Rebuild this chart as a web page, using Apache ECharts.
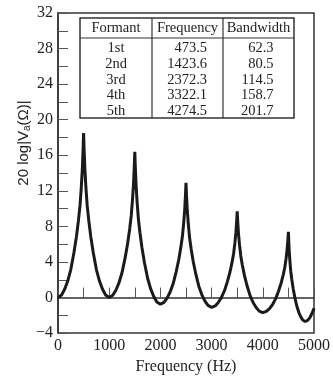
<!DOCTYPE html>
<html>
<head>
<meta charset="utf-8">
<script src="https://cdn.jsdelivr.net/npm/echarts@6/dist/echarts.min.js"></script>
<style>
html,body{margin:0;padding:0;background:#fff;}
#c{width:333px;height:380px;}
</style>
</head>
<body>
<div id="c"></div>
<script>
// ---- data ----
var freqHz = [0,70,130,190,250,310,360,400,430,455,475,490,500,510,525,545,570,600,640,690,750,810,870,930,1000,
  1070,1130,1190,1250,1310,1360,1400,1430,1455,1475,1490,1500,1510,1525,1545,1570,1600,1640,1690,1750,1810,1870,1930,2000,
  2070,2130,2190,2250,2310,2360,2400,2430,2455,2475,2490,2500,2510,2525,2545,2570,2600,2640,2690,2750,2810,2870,2930,3000,
  3070,3130,3190,3250,3310,3360,3400,3430,3455,3475,3490,3500,3510,3525,3545,3570,3600,3640,3690,3750,3810,3870,3930,4000,
  4070,4130,4190,4250,4310,4360,4400,4430,4455,4475,4490,4500,4507,4516,4530,4546,4566,4592,4625,4665,4705,4744,4784,4830,4880,4920,4960,5000];
var levelDb = [0,0.28,0.93,1.85,3.15,5.00,6.85,8.70,10.36,12.40,14.43,16.65,18.5,16.65,14.43,12.40,10.36,8.70,6.85,5.00,3.15,1.85,0.93,0.28,0,
  0.25,0.82,1.64,2.79,4.43,6.07,7.71,9.18,10.99,12.79,14.76,16.4,14.69,12.63,10.74,8.85,7.31,5.60,3.88,2.17,0.97,0.11,-0.49,-0.75,
  -0.55,-0.07,0.62,1.57,2.94,4.30,5.67,6.89,8.40,9.90,11.54,12.9,11.5,9.82,8.28,6.74,5.48,4.08,2.68,1.28,0.30,-0.40,-0.89,-1.1,
  -0.94,-0.56,-0.02,0.74,1.82,2.90,3.98,4.95,6.14,7.32,8.62,9.7,8.56,7.19,5.94,4.68,3.66,2.52,1.38,0.24,-0.56,-1.13,-1.53,-1.7,
  -1.56,-1.25,-0.79,-0.15,0.76,1.67,2.58,3.40,4.40,5.40,6.49,7.4,6.39,5.18,4.07,2.96,2.05,1.04,0.03,-0.98,-1.69,-2.20,-2.55,-2.7,-2.55,-2.25,-1.8,-1.2];

var tableHeader = ['Formant','Frequency','Bandwidth'];
var formantNames = ['1st','2nd','3rd','4th','5th'];
var formantFreq = ['473.5','1423.6','2372.3','3322.1','4274.5'];
var formantBw = ['62.3','80.5','114.5','158.7','201.7'];

var xTickLabels = [0,1000,2000,3000,4000,5000];
var yTickLabels = [-4,0,4,8,12,16,20,24,28,32];

// ---- chart ----
var serif = '"Liberation Serif","Times New Roman",serif';
var sans = '"Liberation Sans",Arial,sans-serif';
var ink = '#222';
var axisCol = '#333';

var pts = freqHz.map(function(f,i){return [f, levelDb[i]];});

// table graphic
var T = {x:80, y:18, w:214, h:100, headH:20, col1:152, col2:223, row0:48.5, rowStep:15.7};
var tableChildren = [
  {type:'rect', shape:{x:T.x, y:T.y, width:T.w, height:T.h}, style:{fill:'#fff', stroke:axisCol, lineWidth:1.5}},
  {type:'line', shape:{x1:T.x, y1:T.y+T.headH, x2:T.x+T.w, y2:T.y+T.headH}, style:{stroke:axisCol, lineWidth:1.2}},
  {type:'line', shape:{x1:T.col1, y1:T.y, x2:T.col1, y2:T.y+T.h}, style:{stroke:axisCol, lineWidth:1.2}},
  {type:'line', shape:{x1:T.col2, y1:T.y, x2:T.col2, y2:T.y+T.h}, style:{stroke:axisCol, lineWidth:1.2}}
];
var colCenters = [(T.x+T.col1)/2, (T.col1+T.col2)/2, (T.col2+T.x+T.w)/2];
tableHeader.forEach(function(h,i){
  tableChildren.push({type:'text', x:colCenters[i], y:T.y+T.headH/2+0.5,
    style:{text:h, font:'14.5px '+serif, fill:ink, align:'center', verticalAlign:'middle'}});
});
formantNames.forEach(function(n,i){
  var yy = T.row0 + i*T.rowStep;
  tableChildren.push({type:'text', x:colCenters[0], y:yy, style:{text:n, font:'14.5px '+serif, fill:ink, align:'center', verticalAlign:'middle'}});
  tableChildren.push({type:'text', x:207, y:yy, style:{text:formantFreq[i], font:'14.5px '+serif, fill:ink, align:'right', verticalAlign:'middle'}});
  tableChildren.push({type:'text', x:273.5, y:yy, style:{text:formantBw[i], font:'14.5px '+serif, fill:ink, align:'right', verticalAlign:'middle'}});
});

var chart = echarts.init(document.getElementById('c'), null, {renderer:'canvas'});
chart.setOption({
  animation:false,
  backgroundColor:'#fff',
  grid:{left:58, right:17, top:13, bottom:36, show:true, borderColor:axisCol, borderWidth:1.5, backgroundColor:'transparent'},
  xAxis:{
    type:'value', min:0, max:5000, interval:500,
    name:'Frequency (Hz)', nameLocation:'middle', nameGap:20,
    nameTextStyle:{fontFamily:serif, fontSize:16, color:ink},
    axisLine:{show:true, lineStyle:{color:axisCol, width:1.5}},
    axisTick:{show:true, inside:true, length:10, lineStyle:{color:'#555', width:1}},
    axisLabel:{margin:5, fontFamily:serif, fontSize:16, color:ink,
      formatter:function(v){return xTickLabels.indexOf(v)>=0 ? String(v) : '';}},
    splitLine:{show:false}
  },
  yAxis:{
    type:'value', min:-4, max:32, interval:2,
    axisLine:{show:true, lineStyle:{color:axisCol, width:1.5}},
    axisTick:{show:true, inside:true, length:10, lineStyle:{color:'#555', width:1}},
    axisLabel:{margin:5, fontFamily:serif, fontSize:16, color:ink,
      formatter:function(v){return yTickLabels.indexOf(v)>=0 ? (v<0 ? '\u2212'+(-v) : String(v)) : '';}},
    splitLine:{show:false}
  },
  graphic:[
    {type:'group', children:tableChildren},
    {type:'text', x:24, y:143, rotation:Math.PI/2,
      style:{text:'20 log|V{sub|a}(\u03A9)|', font:'15px '+sans, fill:ink, align:'center', verticalAlign:'middle',
        rich:{sub:{fontSize:10, fontFamily:sans, fill:ink, verticalAlign:'bottom', padding:[6,0,0,0]}}}}
  ],
  series:[{
    type:'line', data:pts, showSymbol:false, symbol:'none', smooth:false,
    lineStyle:{color:'#1a1a1a', width:3}, clip:true
  }]
});
</script>
</body>
</html>
